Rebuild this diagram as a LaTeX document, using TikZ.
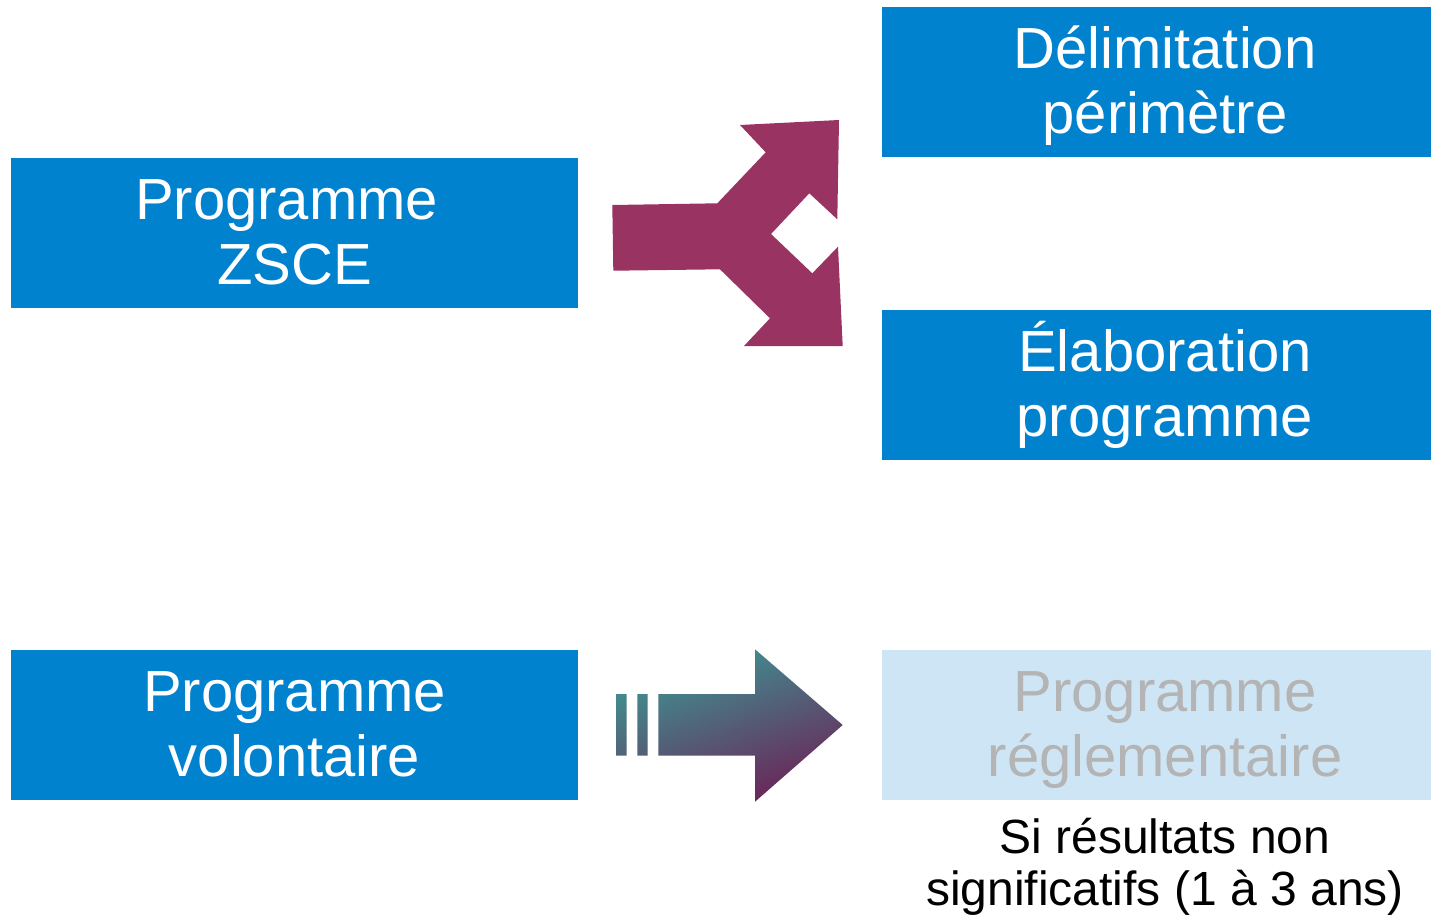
\documentclass[tikz,border=0pt]{standalone}
\usepackage{fontspec}
\setmainfont{Liberation Sans}
\definecolor{boxblue}{HTML}{0082CF}
\definecolor{splitpurple}{HTML}{983362}
\definecolor{paleblue}{HTML}{CDE5F5}
\definecolor{palegray}{HTML}{B4B4B4}
\definecolor{gradteal}{HTML}{3D9695}
\definecolor{gradmid}{HTML}{4F6585}
\definecolor{gradplum}{HTML}{6B2457}
\newcommand\myBoxStrut{\rule[-17pt]{0pt}{72pt}}
\newcommand\myNoteStrut{\rule[-11pt]{0pt}{49pt}}
\begin{document}
\begin{tikzpicture}[x=1pt,y=-1pt,
  boxbase/.style={rectangle, inner sep=0pt, minimum width=567pt, minimum height=150pt,
    align=center, font={\fontsize{58}{65}\selectfont\lineskiplimit=-16000pt}},
  bluebox/.style={boxbase, fill=boxblue, text=white},
  palebox/.style={boxbase, fill=paleblue, text=palegray},
  notetext/.style={inner sep=0pt, align=center, text=black,
    font={\fontsize{48}{52}\selectfont\lineskiplimit=-16000pt}}]
\useasboundingbox (0,0) rectangle (1431,916);
\fill[white] (0,0) rectangle (1431,916);

\node[bluebox] (zsce) at (294.5,233) {\myBoxStrut Programme\hspace*{16pt}\\\myBoxStrut ZSCE};
\node[bluebox] (delim) at (1165,82) {\myBoxStrut Délimitation\\\myBoxStrut périmètre};
\node[bluebox] (elab) at (1165,385) {\myBoxStrut Élaboration\\\myBoxStrut programme};
\node[bluebox] (volont) at (294.5,725) {\myBoxStrut Programme\\\myBoxStrut volontaire};
\node[palebox] (regl) at (1165,725) {\myBoxStrut Programme\\\myBoxStrut réglementaire};
\node[notetext] (note) at (1165,865.5) {\myNoteStrut Si résultats non\\\myNoteStrut significatifs (1 à 3 ans)};

% split arrow
\fill[splitpurple] (612.3,205) -- (717.3,203.3) -- (765.7,152.3) -- (740,125) -- (839,120)
  -- (837.3,219.3) -- (809.3,193.3) -- (771,234) -- (812.3,273.3) -- (838,246.7)
  -- (842.7,346) -- (744,346) -- (770,318.3) -- (720,269.3) -- (613.3,270.7) -- cycle;

% striped arrow
\shade[top color=gradteal, middle color=gradmid, bottom color=gradplum, shading angle=20]
  (616,694) rectangle (626.7,755.7)
  (637.3,694) rectangle (647.7,755.7)
  (658.3,694) -- (755,694) -- (755,649.3) -- (842.7,725) -- (755,801.7) -- (755,755.7) -- (658.3,755.7) -- cycle;
\end{tikzpicture}
\end{document}
